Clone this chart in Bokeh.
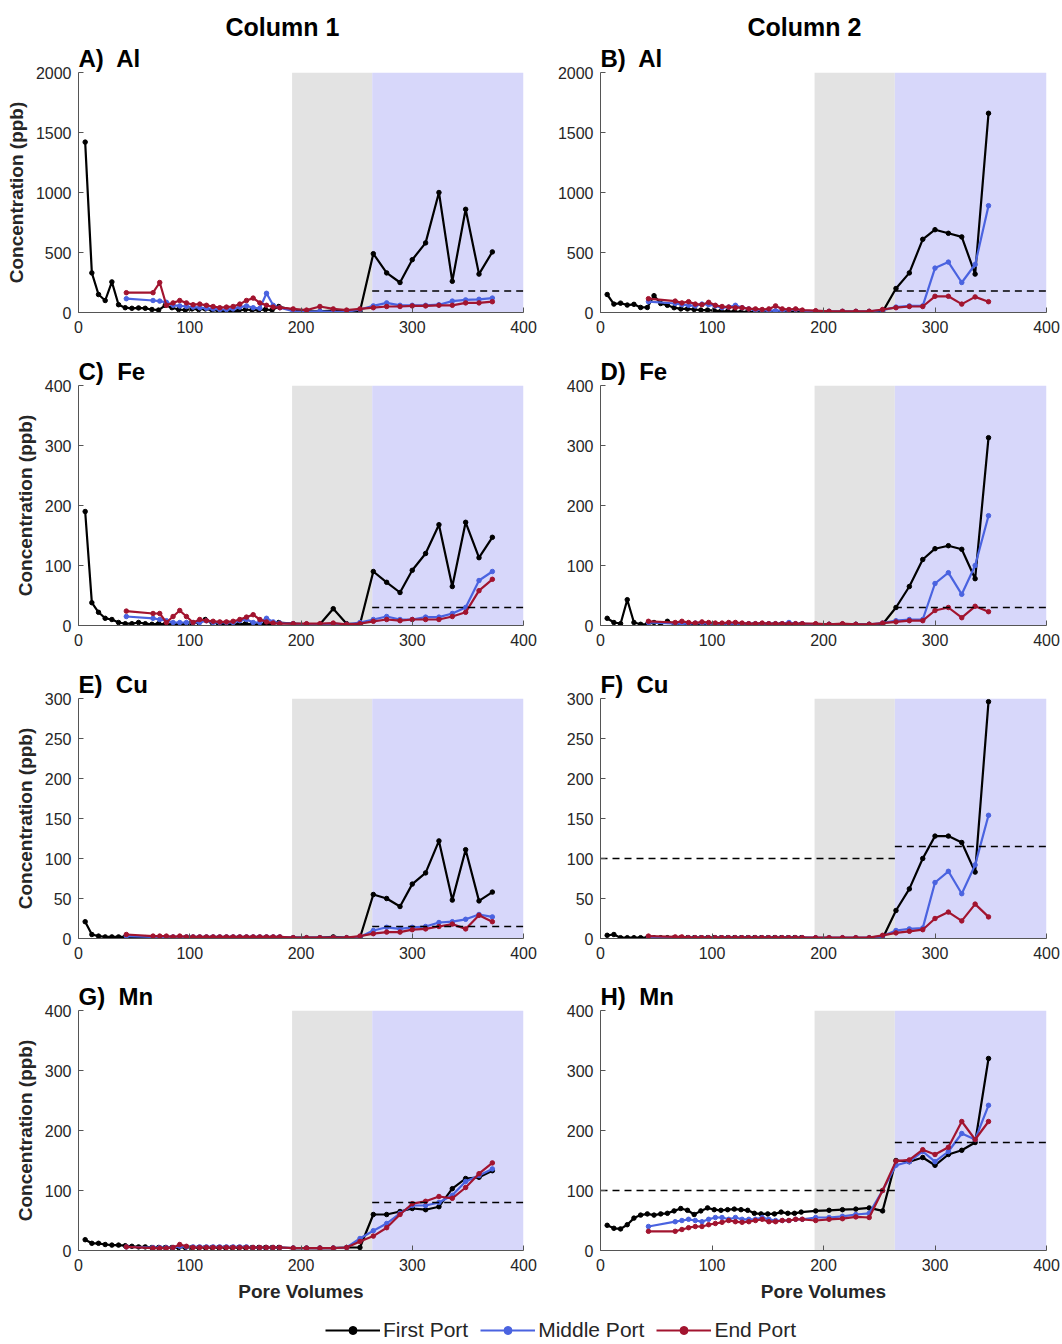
from bokeh.plotting import figure
from bokeh.layouts import column, row
from bokeh.models import Range1d, BoxAnnotation, Title, Legend, LegendItem
from bokeh.embed import file_html
from bokeh.resources import INLINE

FONT = "Liberation Sans"

# ---------------- data ----------------
x1_first = [6, 12, 18, 24, 30, 36, 42, 48, 54, 60, 66, 72, 78, 84, 90, 96, 102, 108, 114, 120,
            126, 132, 138, 144, 150, 156, 162, 168, 174, 180, 193, 205, 217, 229, 241, 253,
            265, 277, 289, 300, 312, 324, 336, 348, 360, 372]
x2_first = [6, 12, 18, 24, 30, 36, 42, 48, 54, 60, 66, 72, 78, 84, 90, 96, 102, 108, 114, 120,
            126, 132, 138, 144, 150, 156, 162, 168, 174, 180, 193, 205, 217, 229, 241, 253,
            265, 277, 289, 300, 312, 324, 336, 348]
x1_me = [43, 67, 73, 79, 85, 91, 97, 103, 109, 115, 121, 127, 133, 139, 145, 151, 157, 163, 169,
         175, 181, 193, 205, 217, 229, 241, 253, 265, 277, 289, 300, 312, 324, 336, 348, 360, 372]
x2_me = [43, 67, 73, 79, 85, 91, 97, 103, 109, 115, 121, 127, 133, 139, 145, 151, 157, 163, 169,
         175, 181, 193, 205, 217, 229, 241, 253, 265, 277, 289, 300, 312, 324, 336, 348]

# A) Al, column 1
A_first = [1420, 330, 150, 100, 255, 65, 40, 35, 38, 35, 25, 20, 60, 40, 25, 20, 30, 25, 30, 20,
           15, 10, 10, 15, 25, 20, 20, 25, 20, 50, 20, 10, 10, 15, 10, 10,
           490, 330, 250, 440, 580, 1000, 260, 860, 320, 505]
A_mid = [115, 100, 95, 85, 60, 55, 50, 45, 40, 35, 30, 25, 25, 30, 45, 55, 40, 35, 160, 60, 40,
         10, 5, 10, 5, 5, 25, 55, 80, 60, 60, 60, 65, 95, 105, 110, 120]
A_end = [165, 165, 250, 60, 80, 100, 80, 65, 70, 60, 50, 40, 45, 50, 70, 100, 120, 80, 60, 45, 40,
         30, 20, 50, 30, 20, 30, 40, 50, 50, 55, 55, 60, 60, 80, 80, 90]
# B) Al, column 2
B_first = [150, 70, 78, 62, 68, 42, 42, 140, 75, 60, 40, 30, 30, 25, 20, 20, 15, 12, 10, 8,
           5, 5, 5, 5, 5, 5, 5, 5, 5, 5, 5, 5, 5, 5, 5, 5,
           200, 330, 610, 690, 660, 630, 320, 1660]
B_mid = [90, 75, 65, 60, 55, 70, 65, 55, 40, 45, 60, 40, 30, 20, 20, 15, 15, 15, 20, 25, 15,
         10, 10, 10, 10, 10, 20, 45, 55, 55, 370, 420, 250, 400, 890]
B_end = [115, 95, 80, 90, 70, 65, 85, 60, 50, 45, 40, 40, 30, 30, 25, 30, 55, 30, 25, 30, 20,
         15, 10, 10, 10, 10, 25, 40, 50, 50, 135, 135, 70, 130, 90]
# C) Fe, column 1
C_first = [190, 38, 22, 12, 10, 5, 3, 3, 5, 3, 2, 3, 2, 2, 2, 2, 3, 5, 10, 5,
           3, 2, 2, 2, 3, 2, 2, 3, 2, 5, 3, 2, 2, 28, 3, 2,
           90, 72, 55, 92, 120, 168, 65, 172, 113, 147]
C_mid = [15, 12, 10, 8, 5, 5, 5, 5, 5, 8, 5, 5, 5, 5, 8, 10, 5, 5, 12, 6, 4,
         3, 2, 2, 3, 2, 5, 10, 15, 10, 10, 14, 14, 20, 30, 75, 90]
C_end = [24, 20, 20, 5, 15, 25, 15, 5, 10, 8, 7, 6, 6, 7, 10, 14, 18, 10, 6, 4, 3,
         3, 3, 3, 4, 2, 3, 7, 10, 8, 10, 10, 10, 15, 22, 58, 77]
# D) Fe, column 2
D_first = [12, 5, 3, 43, 5, 2, 2, 5, 3, 7, 3, 2, 2, 2, 2, 2, 2, 2, 2, 2,
           2, 2, 2, 2, 2, 2, 2, 2, 2, 2, 2, 2, 2, 2, 2, 2,
           30, 65, 110, 128, 133, 127, 78, 313]
D_mid = [5, 3, 3, 3, 4, 4, 3, 3, 3, 3, 3, 3, 3, 3, 3, 3, 3, 3, 5, 3, 3,
         2, 2, 2, 2, 2, 4, 8, 10, 10, 70, 88, 52, 100, 183]
D_end = [7, 5, 7, 5, 4, 6, 5, 4, 4, 5, 5, 4, 3, 3, 4, 3, 3, 3, 3, 3, 3,
         3, 2, 3, 2, 2, 4, 6, 8, 8, 25, 30, 13, 32, 23]
# E) Cu, column 1
E_first = [21, 5, 3, 2, 2, 2, 2, 1, 1, 1, 1, 1, 1, 1, 1, 1, 1, 1, 1, 1,
           1, 1, 1, 1, 1, 1, 1, 1, 1, 1, 1, 1, 1, 2, 1, 1,
           55, 50, 40, 68, 82, 122, 48, 111, 47, 58]
E_mid = [3, 2, 2, 2, 2, 2, 2, 2, 2, 2, 2, 2, 2, 2, 2, 2, 2, 2, 2, 2, 2,
         1, 1, 1, 1, 1, 2, 10, 14, 12, 14, 15, 20, 21, 24, 30, 27]
E_end = [5, 3, 3, 3, 2, 3, 2, 2, 2, 2, 2, 2, 2, 2, 2, 2, 2, 2, 2, 2, 2,
         1, 1, 1, 1, 1, 3, 6, 8, 8, 11, 12, 15, 18, 12, 29, 21]
# F) Cu, column 2
F_first = [4, 5, 1, 1, 1, 1, 1, 1, 1, 1, 1, 1, 1, 1, 1, 1, 1, 1, 1, 1,
           1, 1, 1, 1, 1, 1, 1, 1, 1, 1, 0.5, 0.5, 0.5, 0.5, 0.5, 0,
           35, 62, 100, 128, 128, 120, 83, 296]
F_mid = [2, 1, 1, 1, 1, 1, 1, 1, 1, 1, 1, 1, 1, 1, 1, 1, 1, 1, 1, 1, 1,
         1, 1, 1, 1, 1, 3, 10, 12, 13, 70, 84, 56, 92, 154]
F_end = [3, 2, 2, 1, 1, 1, 1, 1, 1, 1, 1, 1, 1, 1, 1, 1, 1, 1, 1, 1, 1,
         1, 1, 1, 1, 1, 4, 7, 9, 11, 25, 33, 22, 43, 27]
# G) Mn, column 1
G_first = [18, 12, 12, 10, 9, 9, 8, 7, 6, 6, 5, 5, 5, 5, 5, 5, 5, 5, 5, 5,
           5, 5, 5, 5, 5, 5, 5, 5, 5, 5, 4, 4, 4, 4, 5, 5,
           60, 60, 65, 70, 68, 73, 103, 120, 122, 133]
G_mid = [6, 5, 5, 5, 5, 7, 6, 6, 6, 6, 6, 6, 6, 6, 6, 6, 5, 5, 5, 5, 5,
         4, 4, 4, 4, 5, 20, 33, 45, 62, 75, 75, 80, 92, 115, 125, 136]
G_end = [6, 4, 4, 4, 5, 10, 7, 5, 5, 5, 5, 5, 5, 5, 5, 5, 5, 5, 5, 5, 5,
         4, 4, 4, 4, 5, 15, 24, 38, 60, 78, 82, 90, 87, 105, 128, 146]
# H) Mn, column 2
H_first = [42, 37, 36, 43, 54, 59, 61, 59, 61, 62, 66, 70, 67, 60, 66, 71, 68, 67, 68, 69,
           68, 67, 62, 61, 61, 61, 64, 62, 62, 64, 66, 67, 68, 69, 71, 66,
           150, 148, 155, 142, 160, 167, 180, 320]
H_mid = [40, 48, 50, 52, 50, 48, 52, 55, 55, 52, 55, 52, 52, 52, 55, 52, 50, 50, 50, 52, 52,
         55, 55, 57, 60, 62, 100, 142, 148, 165, 148, 165, 195, 185, 242]
H_end = [32, 32, 35, 38, 40, 40, 43, 45, 47, 50, 48, 47, 48, 50, 52, 48, 48, 50, 50, 52, 52,
         50, 52, 53, 56, 55, 100, 149, 151, 168, 160, 172, 215, 185, 215]

# guideline (dashed) levels: start, end, value
A_thr = ([264], [400], [180])
B_thr = ([264], [400], [180])
C_thr = ([264], [400], [30])
D_thr = ([264], [400], [30])
E_thr = ([264], [400], [15])
F_thr = ([0, 264], [264, 400], [100, 115])
G_thr = ([264], [400], [80])
H_thr = ([0, 264], [264, 400], [100, 180])

# shaded phases (pore volumes)
grey_start, blue_start, phase_end = 192, 264, 400

x_ticks = [0, 100, 200, 300, 400]
ticks_al = [0, 500, 1000, 1500, 2000]
ticks_400 = [0, 100, 200, 300, 400]
ticks_300 = [0, 50, 100, 150, 200, 250, 300]

series_names = ["First Port", "Middle Port", "End Port"]
colors = ["#000000", "#4A63E0", "#A2142F"]
column_titles = ["Column 1", "Column 2"]

NB = "\u00a0"
panels = [
    ("A)" + NB + " Al", 1, 2000, ticks_al, A_first, A_mid, A_end, A_thr),
    ("B)" + NB + " Al", 2, 2000, ticks_al, B_first, B_mid, B_end, B_thr),
    ("C)" + NB + " Fe", 1, 400, ticks_400, C_first, C_mid, C_end, C_thr),
    ("D)" + NB + " Fe", 2, 400, ticks_400, D_first, D_mid, D_end, D_thr),
    ("E)" + NB + " Cu", 1, 300, ticks_300, E_first, E_mid, E_end, E_thr),
    ("F)" + NB + " Cu", 2, 300, ticks_300, F_first, F_mid, F_end, F_thr),
    ("G)" + NB + " Mn", 1, 400, ticks_400, G_first, G_mid, G_end, G_thr),
    ("H)" + NB + " Mn", 2, 400, ticks_400, H_first, H_mid, H_end, H_thr),
]

row_h = [345, 313, 313, 335]
row_top = [72, 40, 40, 39]
row_bot = [33, 33, 33, 56]
col_w = {1: 538, 2: 522}
col_left = {1: 78, 2: 62}
col_right = {1: 15, 2: 14}


def style_title(t, size):
    t.text_font = FONT
    t.text_font_size = size
    t.text_font_style = "bold"
    t.text_color = "black"
    t.align = "left"
    t.standoff = 2


def make_panel(i, label, col, ymax, yticks, first, mid, end, thr):
    r = i // 2
    p = figure(width=col_w[col], height=row_h[r], output_backend="svg", toolbar_location=None,
               x_range=Range1d(0, 400), y_range=Range1d(0, ymax),
               min_border_left=col_left[col], min_border_right=col_right[col],
               min_border_top=row_top[r], min_border_bottom=row_bot[r])
    p.outline_line_color = None
    p.grid.visible = False
    p.background_fill_color = "white"
    p.border_fill_color = "white"

    p.add_layout(BoxAnnotation(left=grey_start, right=blue_start, fill_color="#E3E3E3",
                               fill_alpha=1, line_color=None, level="underlay"))
    p.add_layout(BoxAnnotation(left=blue_start, right=phase_end, fill_color="#D7D7FA",
                               fill_alpha=1, line_color=None, level="underlay"))

    x_first = x1_first if col == 1 else x2_first
    x_me = x1_me if col == 1 else x2_me
    for xs, ys, c in [(x_first, first, colors[0]), (x_me, mid, colors[1]), (x_me, end, colors[2])]:
        p.line(xs, ys, line_color=c, line_width=2.2)
        p.scatter(xs, ys, size=4.5, fill_color=c, line_color=c)

    x0, x1, yv = thr
    p.segment(x0=x0, x1=x1, y0=yv, y1=yv, line_color="black", line_width=1.5, line_dash="7 5")

    for ax in (p.xaxis, p.yaxis):
        ax.axis_line_color = "#555555"
        ax.major_tick_line_color = "#555555"
        ax.major_tick_in = 5
        ax.major_tick_out = 0
        ax.minor_tick_line_color = None
        ax.major_label_text_font = FONT
        ax.major_label_text_font_size = "16px"
        ax.major_label_text_color = "#262626"
        ax.axis_label_text_font = FONT
        ax.axis_label_text_font_size = "19px"
        ax.axis_label_text_font_style = "bold"
        ax.axis_label_text_color = "#262626"
    p.xaxis.ticker = x_ticks
    p.yaxis.ticker = yticks
    p.xaxis.major_label_standoff = 8
    p.yaxis.major_label_standoff = 7
    if col == 1:
        p.yaxis.axis_label = "Concentration (ppb)"
        p.yaxis.axis_label_standoff = 6
    if r == 3:
        p.xaxis.axis_label = "Pore Volumes"
        p.xaxis.axis_label_standoff = 7

    if r == 0:
        # outer title: column heading; inner (closer to the frame): panel label
        p.title.text = column_titles[col - 1]
        style_title(p.title, "25px")
        p.title.offset = 147
        inner = Title(text=label)
        style_title(inner, "24px")
        p.add_layout(inner, "above")
    else:
        p.title.text = label
        style_title(p.title, "24px")
    return p


figs = [make_panel(i, *pn) for i, pn in enumerate(panels)]

# legend strip (legend renderers sit outside the visible range)
lg = figure(width=1060, height=36, output_backend="svg", toolbar_location=None,
            x_range=Range1d(1000, 1001), y_range=Range1d(5000, 5001),
            min_border_left=0, min_border_right=0, min_border_top=0, min_border_bottom=0)
lg.axis.visible = False
lg.grid.visible = False
lg.outline_line_color = None
items = []
for name, c, ys in zip(series_names, colors, [G_first, G_mid, G_end]):
    lr = lg.line(x1_me[:2], ys[:2], line_color=c, line_width=2.2)
    sr = lg.scatter(x1_me[:2], ys[:2], size=4.5, fill_color=c, line_color=c)
    items.append(LegendItem(label=name, renderers=[lr, sr]))
leg = Legend(items=items, orientation="horizontal", location=(325, 0),
             label_text_font=FONT, label_text_font_size="21px", label_text_color="#262626",
             glyph_width=55, glyph_height=20, label_standoff=3, spacing=12,
             padding=0, margin=0, border_line_color=None, background_fill_alpha=0)
lg.add_layout(leg, "center")

layout = column(
    row(figs[0], figs[1]),
    row(figs[2], figs[3]),
    row(figs[4], figs[5]),
    row(figs[6], figs[7]),
    lg,
)

open("out.html", "w").write(file_html(layout, INLINE))
